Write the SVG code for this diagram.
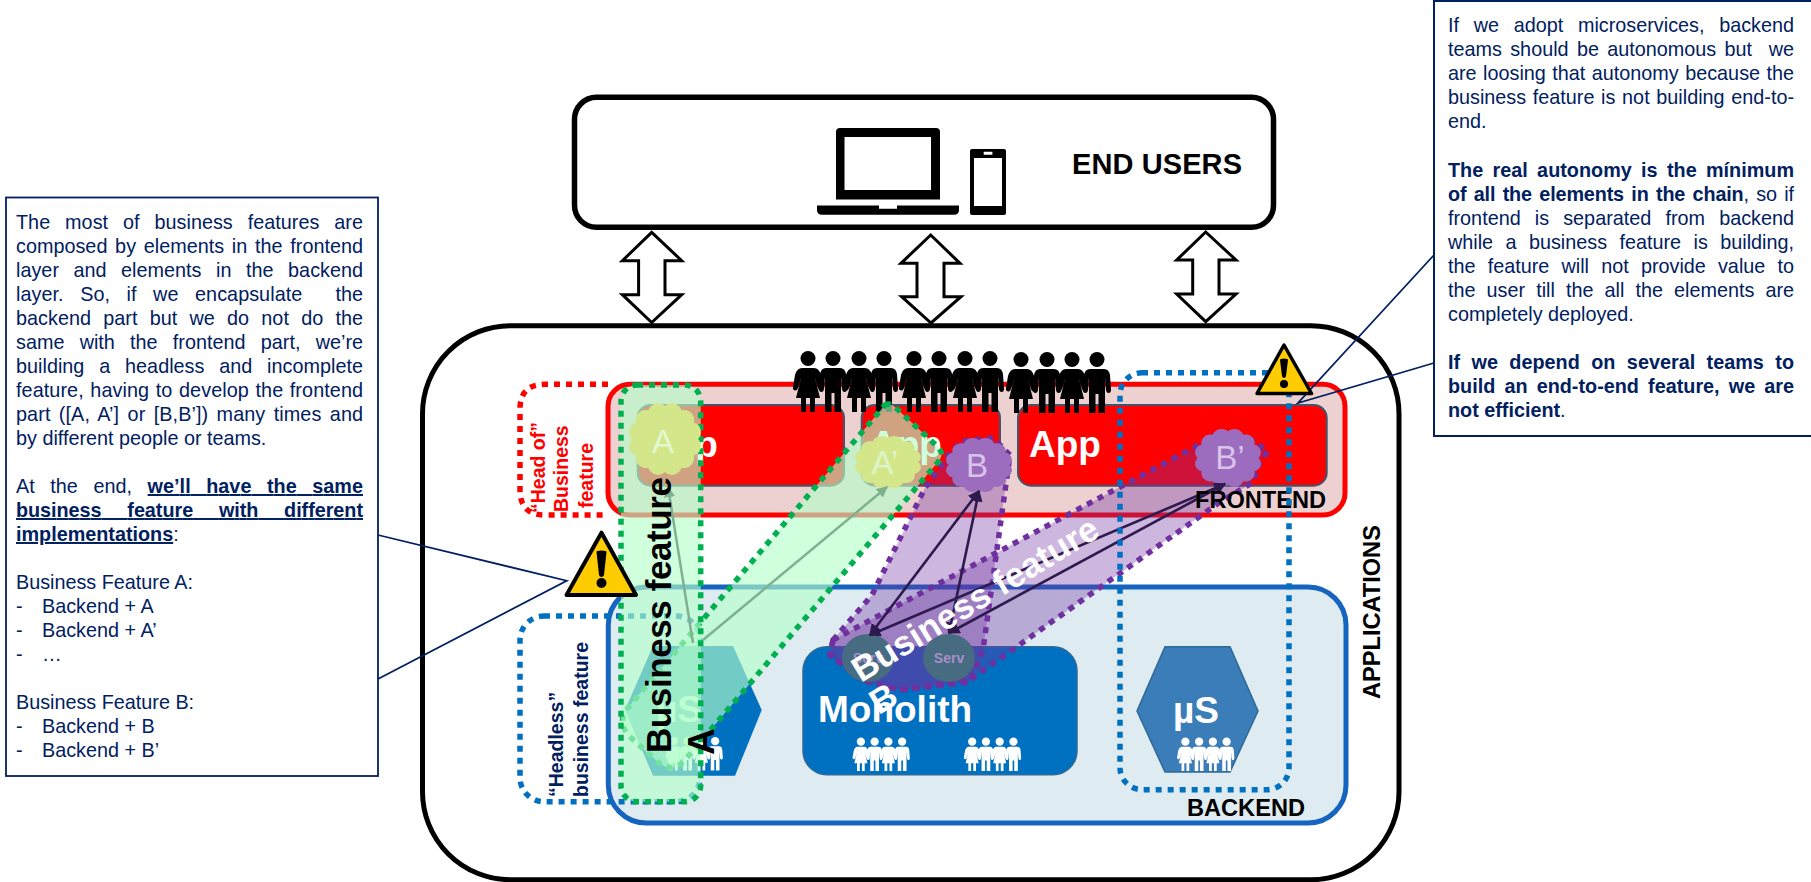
<svg xmlns="http://www.w3.org/2000/svg" width="1811" height="882" viewBox="0 0 1811 882">
<style>
text{font-family:"Liberation Sans",Arial,sans-serif}
.b{font-weight:700}
.note{font-size:19.8px;fill:#002060}
.app{font-size:37px;font-weight:700;fill:#fff}
.lbl{font-size:23.6px;font-weight:700;fill:#000}
.rl{font-size:19.500px;font-weight:700;fill:#FF0000}
.nl{font-size:19.500px;font-weight:700;fill:#002060}
.green{fill:#B4FFCA;fill-opacity:.64;stroke:none}
.gdot{fill:none;stroke:#00B050;stroke-width:5.5;stroke-dasharray:6 6}
.pshape{fill:#7030A0;fill-opacity:.35;stroke:none}
.pdot{fill:none;stroke:#7030A0;stroke-width:5.5;stroke-dasharray:6 6}
.bdot{fill:none;stroke:#0070C0;stroke-width:5.5;stroke-dasharray:6 6}
.rdot{fill:none;stroke:#FF0000;stroke-width:5.5;stroke-dasharray:6 6}
.dbl{fill:#fff;stroke:#000;stroke-width:3;stroke-linejoin:miter}
.call{fill:none;stroke:#002060;stroke-width:1.8}
.garrow{stroke:#7FB08F;stroke-width:2.5;fill:none;marker-end:url(#gh)}
.parrow{stroke:#2E1A4F;stroke-width:2.6;fill:none;marker-end:url(#ph);marker-start:url(#ph)}
.cloudtxt{font-size:33px;text-anchor:middle}
</style>
<defs>
<marker id="gh" viewBox="0 0 10 10" refX="9" refY="5" markerWidth="4.5" markerHeight="4.5" orient="auto-start-reverse"><path d="M0 0L10 5L0 10Z" fill="#7FB08F"/></marker>
<marker id="ph" viewBox="0 0 10 10" refX="9" refY="5" markerWidth="4.5" markerHeight="4.5" orient="auto-start-reverse"><path d="M0 0L10 5L0 10Z" fill="#2E1A4F"/></marker>
<g id="man"><circle cx="0" cy="7.5" r="7.5"/><path d="M-7 17H7Q12 17 13 23L14 38Q14 41 11.5 41Q9.5 41 9 38L8 26V61H1.5V42H-1.5V61H-8V26L-9 38Q-9.5 41-11.5 41Q-14 41-14 38L-13 23Q-12 17-7 17Z"/></g>
<g id="woman"><circle cx="0" cy="7.5" r="7.5"/><path d="M-6 17H6Q11 17 13 24L15 36Q15.5 39 13 39.5Q11 40 10 37L7 27L12 47H7V61H2V47H-2V61H-7V47H-12L-7 27L-10 37Q-11 40-13 39.5Q-15.5 39-15 36L-13 24Q-11 17-6 17Z"/></g>
<g id="team"><use href="#woman" x="-37.500"/><use href="#man" x="-12.500"/><use href="#woman" x="12.500"/><use href="#man" x="37.500"/></g>
<path id="cloud" d="M.92 0A.28 .28 0 0 1 .8 .46A.28 .28 0 0 1 .46 .8A.28 .28 0 0 1 0 .92A.28 .28 0 0 1 -.46 .8A.28 .28 0 0 1 -.8 .46A.28 .28 0 0 1 -.92 0A.28 .28 0 0 1 -.8 -.46A.28 .28 0 0 1 -.46 -.8A.28 .28 0 0 1 0 -.92A.28 .28 0 0 1 .46 -.8A.28 .28 0 0 1 .8 -.46A.28 .28 0 0 1 .92 0Z"/>
</defs>
<rect width="1811" height="882" fill="#fff"/>

<g id="note-left">
<rect x="6" y="197.500" width="372" height="578.500" fill="#fff" stroke="#002060" stroke-width="1.800"/>
<text class="note" x="16" y="229" word-spacing="9.400" textLength="347">The most of business features are</text>
<text class="note" x="16" y="253" word-spacing="2.200" textLength="347">composed by elements in the frontend</text>
<text class="note" x="16" y="277" word-spacing="9" textLength="347">layer and elements in the backend</text>
<text class="note" x="16" y="301" word-spacing="11" textLength="347">layer. So, if we encapsulate&#160; the</text>
<text class="note" x="16" y="325" word-spacing="6.700" textLength="347">backend part but we do not do the</text>
<text class="note" x="16" y="349" word-spacing="9.700" textLength="347">same with the frontend part, we’re</text>
<text class="note" x="16" y="373" word-spacing="9.300" textLength="347">building a headless and incomplete</text>
<text class="note" x="16" y="397" word-spacing="1" textLength="347">feature, having to develop the frontend</text>
<text class="note" x="16" y="421" word-spacing="2.800" textLength="347">part ([A, A’] or [B,B’]) many times and</text>
<text class="note" x="16" y="445">by different people or teams.</text>
<text class="note" x="16" y="493" word-spacing="10" textLength="347">At the end, <tspan class="b" text-decoration="underline">we’ll have the same</tspan></text>
<text class="note b" x="16" y="517" word-spacing="20.300" text-decoration="underline" textLength="347">business feature with different</text>
<text class="note" x="16" y="541"><tspan class="b" text-decoration="underline">implementations</tspan>:</text>
<text class="note" x="16" y="589">Business Feature A:</text>
<text class="note" x="16" y="613">-<tspan x="42">Backend + A</tspan></text>
<text class="note" x="16" y="637">-<tspan x="42">Backend + A’</tspan></text>
<text class="note" x="16" y="661">-<tspan x="42">…</tspan></text>
<text class="note" x="16" y="709">Business Feature B:</text>
<text class="note" x="16" y="733">-<tspan x="42">Backend + B</tspan></text>
<text class="note" x="16" y="757">-<tspan x="42">Backend + B’</tspan></text>
</g>

<g id="note-right">
<rect x="1434" y="1" width="380" height="435" fill="#fff" stroke="#002060" stroke-width="2"/>
<text class="note" x="1448" y="32" word-spacing="9.200" textLength="346">If we adopt microservices, backend</text>
<text class="note" x="1448" y="56" word-spacing="2.800" textLength="346">teams should be autonomous but&#160; we</text>
<text class="note" x="1448" y="80" word-spacing=".9" textLength="346">are loosing that autonomy because the</text>
<text class="note" x="1448" y="104" word-spacing="1.200" textLength="346">business feature is not building end-to-</text>
<text class="note" x="1448" y="128">end.</text>
<text class="note b" x="1448" y="176.500" word-spacing="3.800" textLength="346">The real autonomy is the mínimum</text>
<text class="note" x="1448" y="200.500" word-spacing="2" textLength="346"><tspan class="b">of all the elements in the chain</tspan>, so if</text>
<text class="note" x="1448" y="224.600" word-spacing="8.600" textLength="346">frontend is separated from backend</text>
<text class="note" x="1448" y="248.700" word-spacing="6.900" textLength="346">while a business feature is building,</text>
<text class="note" x="1448" y="272.800" word-spacing="6.700" textLength="346">the feature will not provide value to</text>
<text class="note" x="1448" y="296.900" word-spacing="5.600" textLength="346">the user till the all the elements are</text>
<text class="note" x="1448" y="321">completely deployed.</text>
<text class="note b" x="1448" y="369.200" word-spacing="5.900" textLength="346">If we depend on several teams to</text>
<text class="note b" x="1448" y="393.300" word-spacing="3.600" textLength="346">build an end-to-end feature, we are</text>
<text class="note" x="1448" y="417.400"><tspan class="b">not efficient</tspan>.</text>
</g>

<g id="end-users">
<rect x="574.500" y="97.300" width="699" height="130" rx="22" fill="#fff" stroke="#000" stroke-width="5.500"/>
<path fill-rule="evenodd" d="M840 128H936Q940 128 940 132V199.500H836V132Q836 128 840 128ZM844.500 137V190H931V137Z"/>
<path d="M817 205.500H879V208.700H897V205.500H959V210Q959 214.700 954 214.700H822Q817 214.700 817 210Z"/>
<path fill-rule="evenodd" d="M972 149H1004Q1006 149 1006 151V213Q1006 215 1004 215H972Q970 215 970 213V151Q970 149 972 149ZM974 158V206H1002V158ZM983.700 151.700V154.700H992.400V151.700Z"/>
<text class="b" x="1072" y="174" font-size="29" fill="#000" textLength="170">END USERS</text>
</g>

<g id="applications">
<rect x="422.500" y="325.700" width="976.500" height="554" rx="88" fill="#fff" stroke="#000" stroke-width="5"/>
<text class="lbl" transform="translate(1380,699) rotate(-90)">APPLICATIONS</text>
</g>

<g id="link-arrows">
<path class="dbl" d="M651.700 232.300L681.700 260.700H665V294.700H681.700L651.700 322.500L622.400 294.700H638.600V260.700H622.400Z"/>
<path class="dbl" d="M930.700 235L960 263.300H944V296.700H961L931 323L901.700 296.700H917V263.300H901Z"/>
<path class="dbl" d="M1205.700 232L1236 260H1219V294H1236L1205.700 321.700L1176.700 294H1192.700V260H1176.700Z"/>
</g>

<g id="frontend">
<rect x="608" y="384.300" width="737" height="130.700" rx="22" fill="#EDD1D1" stroke="#FF0000" stroke-width="5"/>
<path class="rdot" d="M608 384.300H545Q520 384.300 520 409V490Q520 515 545 515H608"/>
<rect x="637.700" y="405" width="206.300" height="80.700" rx="13" fill="#FF0000" stroke="#44546A" stroke-width="2"/>
<rect x="861.700" y="405" width="138.300" height="80.700" rx="13" fill="#FF0000" stroke="#44546A" stroke-width="2"/>
<rect x="1018" y="405" width="308.700" height="80.700" rx="13" fill="#FF0000" stroke="#44546A" stroke-width="2"/>
<text class="app" x="646" y="457">App</text>
<text class="app" x="870" y="457">App</text>
<text class="app" x="1029" y="457">App</text>
<text class="rl" transform="translate(545,513) rotate(-90)">“Head of”</text>
<text class="rl" transform="translate(568,512) rotate(-90)">Business</text>
<text class="rl" transform="translate(593,508) rotate(-90)">feature</text>
</g>

<g id="backend">
<rect x="608.300" y="587" width="737.700" height="236" rx="38" fill="#DEEBF0" stroke="#1565C0" stroke-width="5"/>
<rect class="bdot" x="520" y="616" width="180" height="185.700" rx="24"/>
<text class="nl" transform="translate(563.300,797) rotate(-90)">“Headless”</text>
<text class="nl" transform="translate(588.300,797) rotate(-90)">business feature</text>
<path d="M653 646H733L761.700 710L735 775.700H653L625 710Z" fill="#0070C0"/>
<rect x="803" y="646.700" width="274" height="128" rx="24" fill="#0070C0" stroke="#2E6A96" stroke-width="1.500"/>
<path d="M1165 646.700H1230L1258 711L1230 772H1165L1137 711Z" fill="#3B7DB8" stroke="#2E6A96" stroke-width="1.500"/>
<text class="app" x="656" y="722">µS</text>
<text class="app" x="818" y="722">Monolith</text>
<text class="app" x="1173" y="723">µS</text>
<use href="#team" transform="translate(694.500,737) scale(.55)" fill="#fff"/>
<use href="#team" transform="translate(881.500,737.500) scale(.55)" fill="#fff"/>
<use href="#team" transform="translate(992.800,737.500) scale(.55)" fill="#fff"/>
<use href="#team" transform="translate(1206,737.500) scale(.55)" fill="#fff"/>
</g>

<g id="people">
<use href="#woman" x="808" y="351"/><use href="#man" x="833" y="351"/><use href="#woman" x="859" y="351"/><use href="#man" x="884" y="351"/>
<use href="#woman" x="914" y="351"/><use href="#man" x="939" y="351"/><use href="#woman" x="965" y="351"/><use href="#man" x="990" y="351"/>
<use href="#woman" x="1021" y="352"/><use href="#man" x="1047" y="352"/><use href="#woman" x="1072" y="352"/><use href="#man" x="1097" y="352"/>
</g>

<g id="feature-b">
<path id="pb1" class="pshape" d="M833 640L872 595L925 488L950 453L962 441L993 438L1010 455L983 650L970 682L900 690L862 680L830 655Z"/>
<path id="pb2" class="pshape" d="M833 640L1193 448L1213 435L1225 434L1248 438L1268 451L1260 462L1252 483L1220 502L1192 522L970 680L900 690L862 680L830 655Z"/>
<path class="pdot" d="M833 640L872 595L925 488L950 453L962 441L993 438L1010 455L983 650L970 682L900 690L862 680L830 655Z"/>
<path class="pdot" d="M833 640L1193 448L1213 435L1225 434L1248 438L1268 451L1260 462L1252 483L1220 502L1192 522L970 680L900 690L862 680L830 655Z"/>
<ellipse cx="868" cy="658" rx="26" ry="24" fill="#476B80"/>
<ellipse cx="949" cy="658" rx="26" ry="24" fill="#476B80"/>
<text class="b" x="868" y="663" font-size="14" fill="#A88FC8" text-anchor="middle">Serv</text>
<text class="b" x="949" y="663" font-size="14" fill="#A88FC8" text-anchor="middle">Serv</text>
</g>

<g id="feature-a">
<path id="ga2" class="green" d="M885 405Q890 402 896 408L938 447Q945 455 938 462L685 760Q672 774 658 762L628 735Q618 722 626 710Z"/>
<path class="gdot" d="M885 405Q890 402 896 408L938 447Q945 455 938 462L685 760Q672 774 658 762L628 735Q618 722 626 710Z"/>
<rect id="ga1" class="green" x="621" y="385" width="79.700" height="416.700" rx="16"/>
<rect class="gdot" x="621" y="385" width="79.700" height="416.700" rx="16"/>
</g>

<g id="clouds">
<use href="#cloud" transform="translate(665,439) scale(36)" fill="#D4E68A"/>
<use href="#cloud" transform="translate(888,462) scale(33,26)" fill="#D4E68A"/>
<use href="#cloud" transform="translate(979,465) scale(33,27)" fill="#9C6DBE"/>
<use href="#cloud" transform="translate(1228,458) scale(33,29)" fill="#9C6DBE"/>
<text class="cloudtxt" x="663" y="453" fill="#E4F8CF">A</text>
<text class="cloudtxt" x="885" y="474" fill="#DCF5C8">A’</text>
<text class="cloudtxt" x="977" y="477" fill="#D8C4E8">B</text>
<text class="cloudtxt" x="1230" y="469" fill="#D8C4E8">B’</text>
</g>

<g id="connectors">
<path class="garrow" d="M693 643L668 487"/>
<path class="garrow" d="M703 640L887 487"/>
<path class="parrow" d="M870 635L979 491"/>
<path class="parrow" d="M949 633L979 491"/>
<path class="parrow" d="M870 635L1225 484"/>
<path class="parrow" d="M949 633L1225 484"/>
<path class="call" d="M378 535L566.700 580.700L378 679"/>
<path class="call" d="M1434 255L1298 403L1434 363"/>
</g>

<g id="frontend-backend-labels">
<text class="lbl" x="1195" y="508.300">FRONTEND</text>
<text class="lbl" x="1187" y="816">BACKEND</text>
</g>

<g id="microservice-scope">
<rect class="bdot" x="1120" y="372.700" width="169" height="417" rx="22"/>
</g>

<g id="warning-left">
<path d="M601.500 532.700L636 595H566.500Z" fill="#FFCC00" stroke="#000" stroke-width="4" stroke-linejoin="round"/>
<path d="M596.500 552Q596.500 550.500 601.500 550.500Q606.500 550.500 606.500 552L604 575Q603.500 577 601.500 577Q599.500 577 599 575Z"/>
<circle cx="601.500" cy="583" r="5"/>
</g>
<g id="warning-right">
<path d="M1284 345L1311.500 393.500H1257Z" fill="#FFCC00" stroke="#000" stroke-width="3.500" stroke-linejoin="round"/>
<path d="M1280 360Q1280 358.500 1284 358.500Q1288 358.500 1288 360L1286 376Q1285.500 378 1284 378Q1282.500 378 1282 376Z"/>
<circle cx="1284" cy="384" r="4"/>
</g>

<g id="feature-titles">
<text class="b" font-size="35" fill="#000" transform="translate(670.700,753) rotate(-90)" textLength="276">Business feature</text>
<text class="b" font-size="37" fill="#000" transform="translate(714,755) rotate(-90)">A</text>
<text class="b" font-size="35" fill="#fff" transform="translate(861,683) rotate(-31.500)">Business feature</text>
<text class="b" font-size="35" fill="#fff" text-anchor="middle" transform="translate(883,698) rotate(-31.500)" y="12.500">B</text>
</g>
</svg>
